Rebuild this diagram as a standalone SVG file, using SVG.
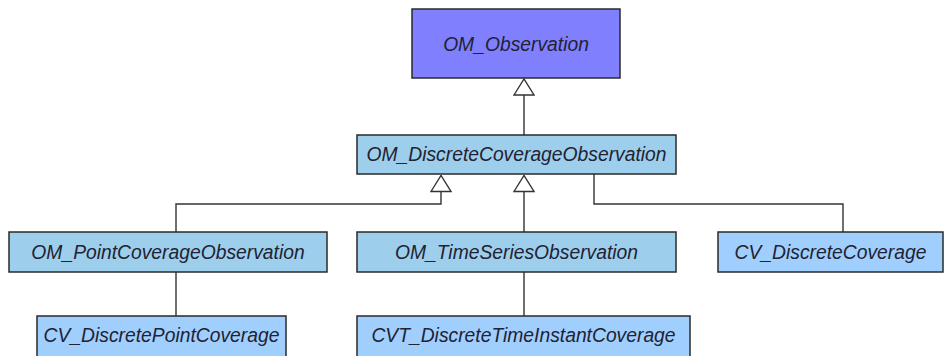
<svg xmlns="http://www.w3.org/2000/svg" width="944" height="356" viewBox="0 0 944 356">
<style>
.box{stroke:#2a2a2a;stroke-width:1.5}
.top{fill:#8080ff}
.om{fill:#9dcfec}
.cv{fill:#a0cffe}
.lbl{font-family:"Liberation Sans",Arial,sans-serif;font-style:italic;font-size:19.3px;fill:#222233;text-anchor:middle}
.con{fill:none;stroke:#333;stroke-width:1.4}
</style>
<defs>
<marker id="gen" markerUnits="userSpaceOnUse" viewBox="-1 -1 18 22" refX="16" refY="10" markerWidth="18" markerHeight="22" orient="auto">
<path d="M0,0 L16,10 L0,20 Z" fill="#fff" stroke="#333" stroke-width="1.4"/>
</marker>
</defs>
<rect width="944" height="356" fill="#fff"/>
<g id="connectors">
<path class="con" d="M524,135 L524,79" marker-end="url(#gen)"/>
<path class="con" d="M176,232 L176,204 L441,204 L441,175.5" marker-end="url(#gen)"/>
<path class="con" d="M524,232 L524,175.5" marker-end="url(#gen)"/>
<path class="con" d="M843,232 L843,204 L594,204 L594,174"/>
<path class="con" d="M176,272 L176,316"/>
<path class="con" d="M524,272 L524,316"/>
</g>
<g id="OM_Observation">
<rect class="box top" x="412" y="9" width="208" height="69"/>
<text class="lbl" x="516" y="50.5">OM_Observation</text>
</g>
<g id="OM_DiscreteCoverageObservation">
<rect class="box om" x="357" y="135" width="319" height="39"/>
<text class="lbl" x="516.5" y="161">OM_DiscreteCoverageObservation</text>
</g>
<g id="OM_PointCoverageObservation">
<rect class="box om" x="9" y="232" width="318" height="40"/>
<text class="lbl" x="168" y="258.5">OM_PointCoverageObservation</text>
</g>
<g id="OM_TimeSeriesObservation">
<rect class="box om" x="357" y="232" width="319" height="40"/>
<text class="lbl" x="516.5" y="258.5">OM_TimeSeriesObservation</text>
</g>
<g id="CV_DiscreteCoverage">
<rect class="box cv" x="718" y="232" width="225" height="40"/>
<text class="lbl" x="830.5" y="258.5">CV_DiscreteCoverage</text>
</g>
<g id="CV_DiscretePointCoverage">
<rect class="box cv" x="37" y="316" width="249" height="42"/>
<text class="lbl" x="161.5" y="342">CV_DiscretePointCoverage</text>
</g>
<g id="CVT_DiscreteTimeInstantCoverage">
<rect class="box cv" x="357" y="316" width="333" height="42"/>
<text class="lbl" x="523.5" y="342">CVT_DiscreteTimeInstantCoverage</text>
</g>
</svg>
